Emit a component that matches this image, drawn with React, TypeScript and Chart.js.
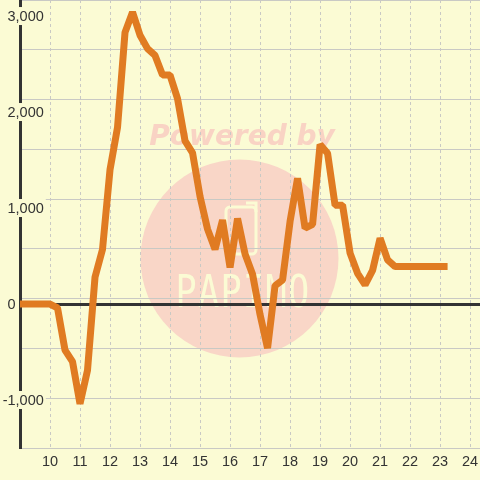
import { useEffect, useRef } from "react";
import { Chart, registerables } from "chart.js";

Chart.register(...registerables);

// ---- data ----
const times: number[] = [
  9, 9.25, 9.5, 9.75, 10, 10.25, 10.5, 10.75, 11, 11.25, 11.5, 11.75,
  12, 12.25, 12.5, 12.75, 13, 13.25, 13.5, 13.75, 14, 14.25, 14.5, 14.75,
  15, 15.25, 15.5, 15.75, 16, 16.25, 16.5, 16.75, 17, 17.25, 17.5, 17.75,
  18, 18.25, 18.5, 18.75, 19, 19.25, 19.5, 19.75, 20, 20.25, 20.5, 20.75,
  21, 21.25, 21.5, 21.75, 22, 22.25, 22.5, 22.75, 23, 23.25,
];
const values: number[] = [
  0, 0, 0, 0, 0, -40, -480, -600, -1040, -690, 280, 570,
  1400, 1840, 2830, 3040, 2800, 2660, 2590, 2385, 2385, 2140, 1700, 1575,
  1120, 780, 570, 875, 380, 890, 520, 310, -110, -460, 190, 250,
  860, 1310, 790, 830, 1660, 1570, 1030, 1030, 530, 320, 200, 350,
  685, 460, 390, 390, 390, 390, 390, 390, 390, 390,
];
const yLabelValues: number[] = [-1000, 0, 1000, 2000, 3000];
const xTickValues: number[] = [10, 11, 12, 13, 14, 15, 16, 17, 18, 19, 20, 21, 22, 23, 24];

const BG = "#fbfbd4";
const GRID = "#c9c9c4";
const DARK = "#333333";
const LINE = "#e07b22";
const FONT = "'Liberation Sans', Arial, sans-serif";

const decorPlugin = {
  id: "decor",
  beforeDraw(chart: any) {
    const ctx = chart.ctx as CanvasRenderingContext2D;
    ctx.save();
    ctx.fillStyle = BG;
    ctx.fillRect(0, 0, chart.width, chart.height);
    // watermark
    ctx.fillStyle = "#f9d6c7";
    ctx.beginPath();
    ctx.arc(239.5, 258.5, 99, 0, Math.PI * 2);
    ctx.fill();
    ctx.fillStyle = "#f9d3c4";
    ctx.font = "italic bold 28px 'DejaVu Sans'";
    ctx.textAlign = "center";
    ctx.textBaseline = "alphabetic";
    ctx.fillText("Powered by", 242, 145);
    // icon
    ctx.strokeStyle = BG;
    ctx.lineWidth = 3;
    ctx.beginPath();
    (ctx as any).roundRect(226, 207, 30, 47, 4);
    ctx.stroke();
    ctx.beginPath();
    ctx.moveTo(246, 203);
    ctx.lineTo(256, 203);
    ctx.lineTo(256, 212);
    ctx.stroke();
    // logo letters
    ctx.fillStyle = BG;
    ctx.textBaseline = "alphabetic";
    ctx.textAlign = "center";
    const letters = ["P", "A", "P", "I", "M", "O"];
    letters.forEach((l, i) => {
      ctx.save();
      ctx.translate(186 + i * 22.5, 307);
      ctx.scale(0.8, 1);
      ctx.font = "44px 'DejaVu Sans Mono'";
      ctx.fillText(l, 0, 0);
      ctx.restore();
    });
    ctx.restore();
  },
  beforeDatasetsDraw(chart: any) {
    const ctx = chart.ctx as CanvasRenderingContext2D;
    const ys = chart.scales.y;
    const area = chart.chartArea;
    const y0 = Math.round(ys.getPixelForValue(0)) + 0.5;
    ctx.save();
    ctx.strokeStyle = DARK;
    ctx.lineWidth = 3;
    ctx.beginPath();
    ctx.moveTo(area.left, y0);
    ctx.lineTo(area.right, y0);
    ctx.stroke();
    ctx.restore();
  },
  afterDraw(chart: any) {
    const ctx = chart.ctx as CanvasRenderingContext2D;
    const ys = chart.scales.y;
    ctx.save();
    ctx.font = `14.5px ${FONT}`;
    ctx.textBaseline = "middle";
    ctx.textAlign = "left";
    for (const v of yLabelValues) {
      const y = ys.getPixelForValue(v);
      const text = v.toLocaleString("en-US");
      const minus = v < 0 ? ctx.measureText("-").width : 0;
      const x = 7.5 - minus;
      const w = ctx.measureText(text).width;
      ctx.fillStyle = BG;
      ctx.fillRect(x - 2, y - 9, w + 4, 18);
      ctx.fillStyle = DARK;
      ctx.fillText(text, x, y + 1);
    }
    ctx.restore();
  },
};

export default function App() {
  const ref = useRef<HTMLCanvasElement | null>(null);
  useEffect(() => {
    if (!ref.current) return;
    const chart = new Chart(ref.current, {
      type: "line",
      data: {
        datasets: [
          {
            data: times.map((t, i) => ({ x: t, y: values[i] })),
            borderColor: LINE,
            borderWidth: 7,
            borderJoinStyle: "bevel",
            borderCapStyle: "butt",
            pointRadius: 0,
            tension: 0,
            fill: false,
          },
        ],
      },
      options: {
        animation: false,
        responsive: false,
        layout: { padding: 0 },
        plugins: { legend: { display: false }, tooltip: { enabled: false } },
        scales: {
          x: {
            type: "linear",
            min: 9,
            max: 24.33,
            afterFit: (s: any) => {
              s.height = 32;
              s.paddingLeft = 0;
              s.paddingRight = 0;
            },
            afterBuildTicks: (s: any) => {
              s.ticks = [9, ...xTickValues].map((v) => ({ value: v }));
            },
            grid: { color: GRID, lineWidth: 1, drawTicks: false },
            border: { display: true, color: GRID, width: 1, dash: [3, 3] },
            ticks: {
              padding: 5,
              color: DARK,
              autoSkip: false,
              maxRotation: 0,
              font: { family: FONT, size: 14.5 },
              callback: (v: any) => (xTickValues.includes(Number(v)) ? String(v) : ""),
            },
          },
          y: {
            type: "linear",
            min: -1500,
            max: 3167,
            afterFit: (s: any) => {
              s.width = 20;
              s.paddingTop = 0;
              s.paddingBottom = 0;
            },
            ticks: { display: false, stepSize: 500, includeBounds: false },
            grid: { drawTicks: false, color: GRID, lineWidth: 1 },
            border: { display: true, color: DARK, width: 3 },
          },
        },
      },
      plugins: [decorPlugin],
    } as any);
    return () => chart.destroy();
  }, []);
  return (
    <div style={{ position: "fixed", left: 0, top: 0, width: 480, height: 480, background: BG }}>
      <canvas ref={ref} width={480} height={480} style={{ display: "block" }} />
    </div>
  );
}
